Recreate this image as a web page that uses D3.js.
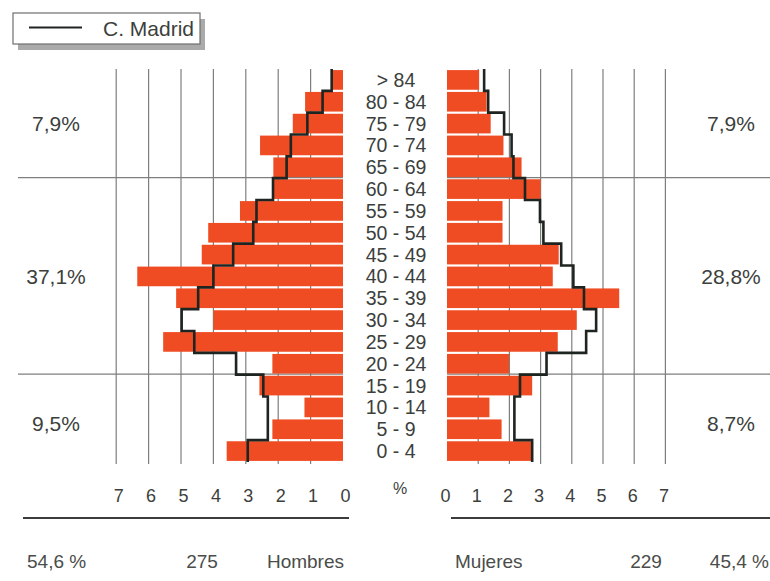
<!DOCTYPE html>
<html>
<head>
<meta charset="utf-8">
<script src="https://cdn.jsdelivr.net/npm/d3@7"></script>
<style>
  html, body { margin: 0; padding: 0; background: #fff; }
  svg { display: block; font-family: "Liberation Sans", Arial, sans-serif; }
</style>
</head>
<body>
<svg id="chart" width="770" height="581"></svg>
<script>
// Age groups, oldest at the top
const ages = ["> 84", "80 - 84", "75 - 79", "70 - 74", "65 - 69", "60 - 64", "55 - 59",
  "50 - 54", "45 - 49", "40 - 44", "35 - 39", "30 - 34", "25 - 29", "20 - 24",
  "15 - 19", "10 - 14", "5 - 9", "0 - 4"];

// Share of population (%) per age group
const hombres = [0.33, 1.17, 1.55, 2.56, 2.15, 2.16, 3.18, 4.16, 4.36, 6.35, 5.15, 4.00,
  5.55, 2.18, 2.58, 1.19, 2.18, 3.59];
const mujeres = [1.03, 1.27, 1.40, 1.81, 2.39, 3.00, 1.78, 1.78, 3.58, 3.39, 5.52, 4.16,
  3.55, 1.99, 2.73, 1.36, 1.75, 2.73];

// Reference profile: Comunidad de Madrid
const madridHombres = [0.35, 0.63, 1.10, 1.61, 1.74, 2.16, 2.67, 2.77, 3.39, 4.00, 4.47,
  4.98, 4.59, 3.30, 2.46, 2.32, 2.32, 2.94];
const madridMujeres = [1.19, 1.32, 1.83, 2.07, 2.13, 2.50, 2.98, 3.09, 3.66, 4.05, 4.39,
  4.78, 4.46, 3.19, 2.34, 2.16, 2.16, 2.73];

const tickValues = [0, 1, 2, 3, 4, 5, 6, 7];
const gridValues = [1, 2, 3, 4, 5, 6, 7];

// Broad age bands: > 64, 15-64, < 15
const bandBreaks = ["60 - 64", "15 - 19"];   // first row of each lower band
const bandLabelsH = ["7,9%", "37,1%", "9,5%"];
const bandLabelsM = ["7,9%", "28,8%", "8,7%"];
const bandLabelRows = ["75 - 79", "40 - 44", "5 - 9"];

const totals = { hombresPct: "54,6 %", hombresN: "275", mujeresPct: "45,4 %", mujeresN: "229" };

const svg = d3.select("#chart");

const C = {
  bar: "#ef4c24",
  grid: "#7d7f7d",
  line: "#1e2420",
  text: "#3c3f3c"
};

// Scales
const rows = d3.scaleBand().domain(ages).range([69, 462]).padding(0);
const bars = d3.scaleBand().domain(ages).range([69, 462]).paddingInner(0.1).paddingOuter(0.05);
const xL = d3.scaleLinear().domain([0, 7]).range([343, 116.2]);
const xR = d3.scaleLinear().domain([0, 7]).range([447, 665.4]);

const yTop = 69, yBot = 464;

// Vertical grid lines
const grid = svg.append("g");
grid.selectAll("line.gl").data(gridValues).join("line")
  .attr("x1", d => xL(d)).attr("x2", d => xL(d))
  .attr("y1", yTop).attr("y2", yBot)
  .attr("stroke", C.grid).attr("stroke-width", 1.2);
grid.selectAll("line.gr").data(gridValues).join("line")
  .attr("x1", d => xR(d)).attr("x2", d => xR(d))
  .attr("y1", yTop).attr("y2", yBot)
  .attr("stroke", C.grid).attr("stroke-width", 1.2);

// Horizontal band separators
bandBreaks.forEach(a => {
  const y = rows(a) - 0.5;
  grid.append("line").attr("x1", 18).attr("x2", xL(0)).attr("y1", y).attr("y2", y)
    .attr("stroke", C.grid).attr("stroke-width", 1.4);
  grid.append("line").attr("x1", xR(0)).attr("x2", 770).attr("y1", y).attr("y2", y)
    .attr("stroke", C.grid).attr("stroke-width", 1.4);
});

// Bars
svg.append("g").selectAll("rect").data(ages).join("rect")
  .attr("x", (d, i) => xL(hombres[i]))
  .attr("width", (d, i) => xL(0) - xL(hombres[i]))
  .attr("y", d => bars(d)).attr("height", bars.bandwidth())
  .attr("fill", C.bar);
svg.append("g").selectAll("rect").data(ages).join("rect")
  .attr("x", xR(0))
  .attr("width", (d, i) => xR(mujeres[i]) - xR(0))
  .attr("y", d => bars(d)).attr("height", bars.bandwidth())
  .attr("fill", C.bar);

// Step outline of the reference profile
function stepPoints(values, x) {
  const pts = [];
  ages.forEach((a, i) => {
    pts.push([x(values[i]), rows(a)]);
    pts.push([x(values[i]), rows(a) + rows.bandwidth()]);
  });
  return pts;
}
const line = d3.line();
svg.append("path").attr("d", line(stepPoints(madridHombres, xL)))
  .attr("fill", "none").attr("stroke", C.line).attr("stroke-width", 2.6);
svg.append("path").attr("d", line(stepPoints(madridMujeres, xR)))
  .attr("fill", "none").attr("stroke", C.line).attr("stroke-width", 2.6);

// Age labels
svg.append("g").selectAll("text").data(ages).join("text")
  .attr("x", 396).attr("y", d => rows(d) + rows.bandwidth() / 2)
  .attr("dy", "0.36em").attr("text-anchor", "middle")
  .attr("font-size", 19.5).attr("fill", C.text)
  .text(d => d);

// Band share labels
bandLabelRows.forEach((a, i) => {
  const y = rows(a) + rows.bandwidth() / 2 - (i === 2 ? 6 : 0);
  svg.append("text").attr("x", 56).attr("y", y).attr("dy", "0.36em")
    .attr("text-anchor", "middle").attr("font-size", 21).attr("fill", C.text)
    .text(bandLabelsH[i]);
  svg.append("text").attr("x", 731).attr("y", y).attr("dy", "0.36em")
    .attr("text-anchor", "middle").attr("font-size", 21).attr("fill", C.text)
    .text(bandLabelsM[i]);
});

// Percentage axes
function styleAxis(g) {
  g.select(".domain").remove();
  g.selectAll(".tick line").remove();
  g.selectAll(".tick text").attr("font-size", 18).attr("fill", C.text)
    .attr("font-family", "Liberation Sans, Arial, sans-serif").attr("dy", 0);
}
svg.append("g").attr("transform", "translate(2,502)")
  .call(d3.axisBottom(xL).tickValues(tickValues).tickSize(0).tickPadding(0).tickFormat(d3.format("d")))
  .call(styleAxis);
svg.append("g").attr("transform", "translate(-2,502)")
  .call(d3.axisBottom(xR).tickValues(tickValues).tickSize(0).tickPadding(0).tickFormat(d3.format("d")))
  .call(styleAxis);
svg.append("text").attr("x", 400).attr("y", 494).attr("text-anchor", "middle")
  .attr("font-size", 16).attr("fill", C.text).text("%");

// Totals
svg.append("line").attr("x1", 23).attr("x2", 349).attr("y1", 518).attr("y2", 518)
  .attr("stroke", "#3a3d3a").attr("stroke-width", 2);
svg.append("line").attr("x1", 451).attr("x2", 770).attr("y1", 518).attr("y2", 518)
  .attr("stroke", "#3a3d3a").attr("stroke-width", 2);
const foot = svg.append("g").attr("font-size", 19).attr("fill", "#4a4d4a");
foot.append("text").attr("x", 27).attr("y", 568).text(totals.hombresPct);
foot.append("text").attr("x", 202).attr("y", 568).attr("text-anchor", "middle").text(totals.hombresN);
foot.append("text").attr("x", 344).attr("y", 568).attr("text-anchor", "end").text("Hombres");
foot.append("text").attr("x", 455).attr("y", 568).text("Mujeres");
foot.append("text").attr("x", 646).attr("y", 568).attr("text-anchor", "middle").text(totals.mujeresN);
foot.append("text").attr("x", 769).attr("y", 568).attr("text-anchor", "end").text(totals.mujeresPct);

// Legend
const lg = svg.append("g");
lg.append("rect").attr("x", 18).attr("y", 19).attr("width", 187).attr("height", 31)
  .attr("fill", "#a9aaa9");
lg.append("rect").attr("x", 13).attr("y", 13).attr("width", 187).attr("height", 31)
  .attr("fill", "#fff").attr("stroke", "#6d706d").attr("stroke-width", 1.2);
lg.append("line").attr("x1", 29).attr("x2", 82).attr("y1", 27.5).attr("y2", 27.5)
  .attr("stroke", C.line).attr("stroke-width", 2);
lg.append("text").attr("x", 103).attr("y", 36).attr("font-size", 21).attr("fill", C.text)
  .text("C. Madrid");
</script>
</body>
</html>
